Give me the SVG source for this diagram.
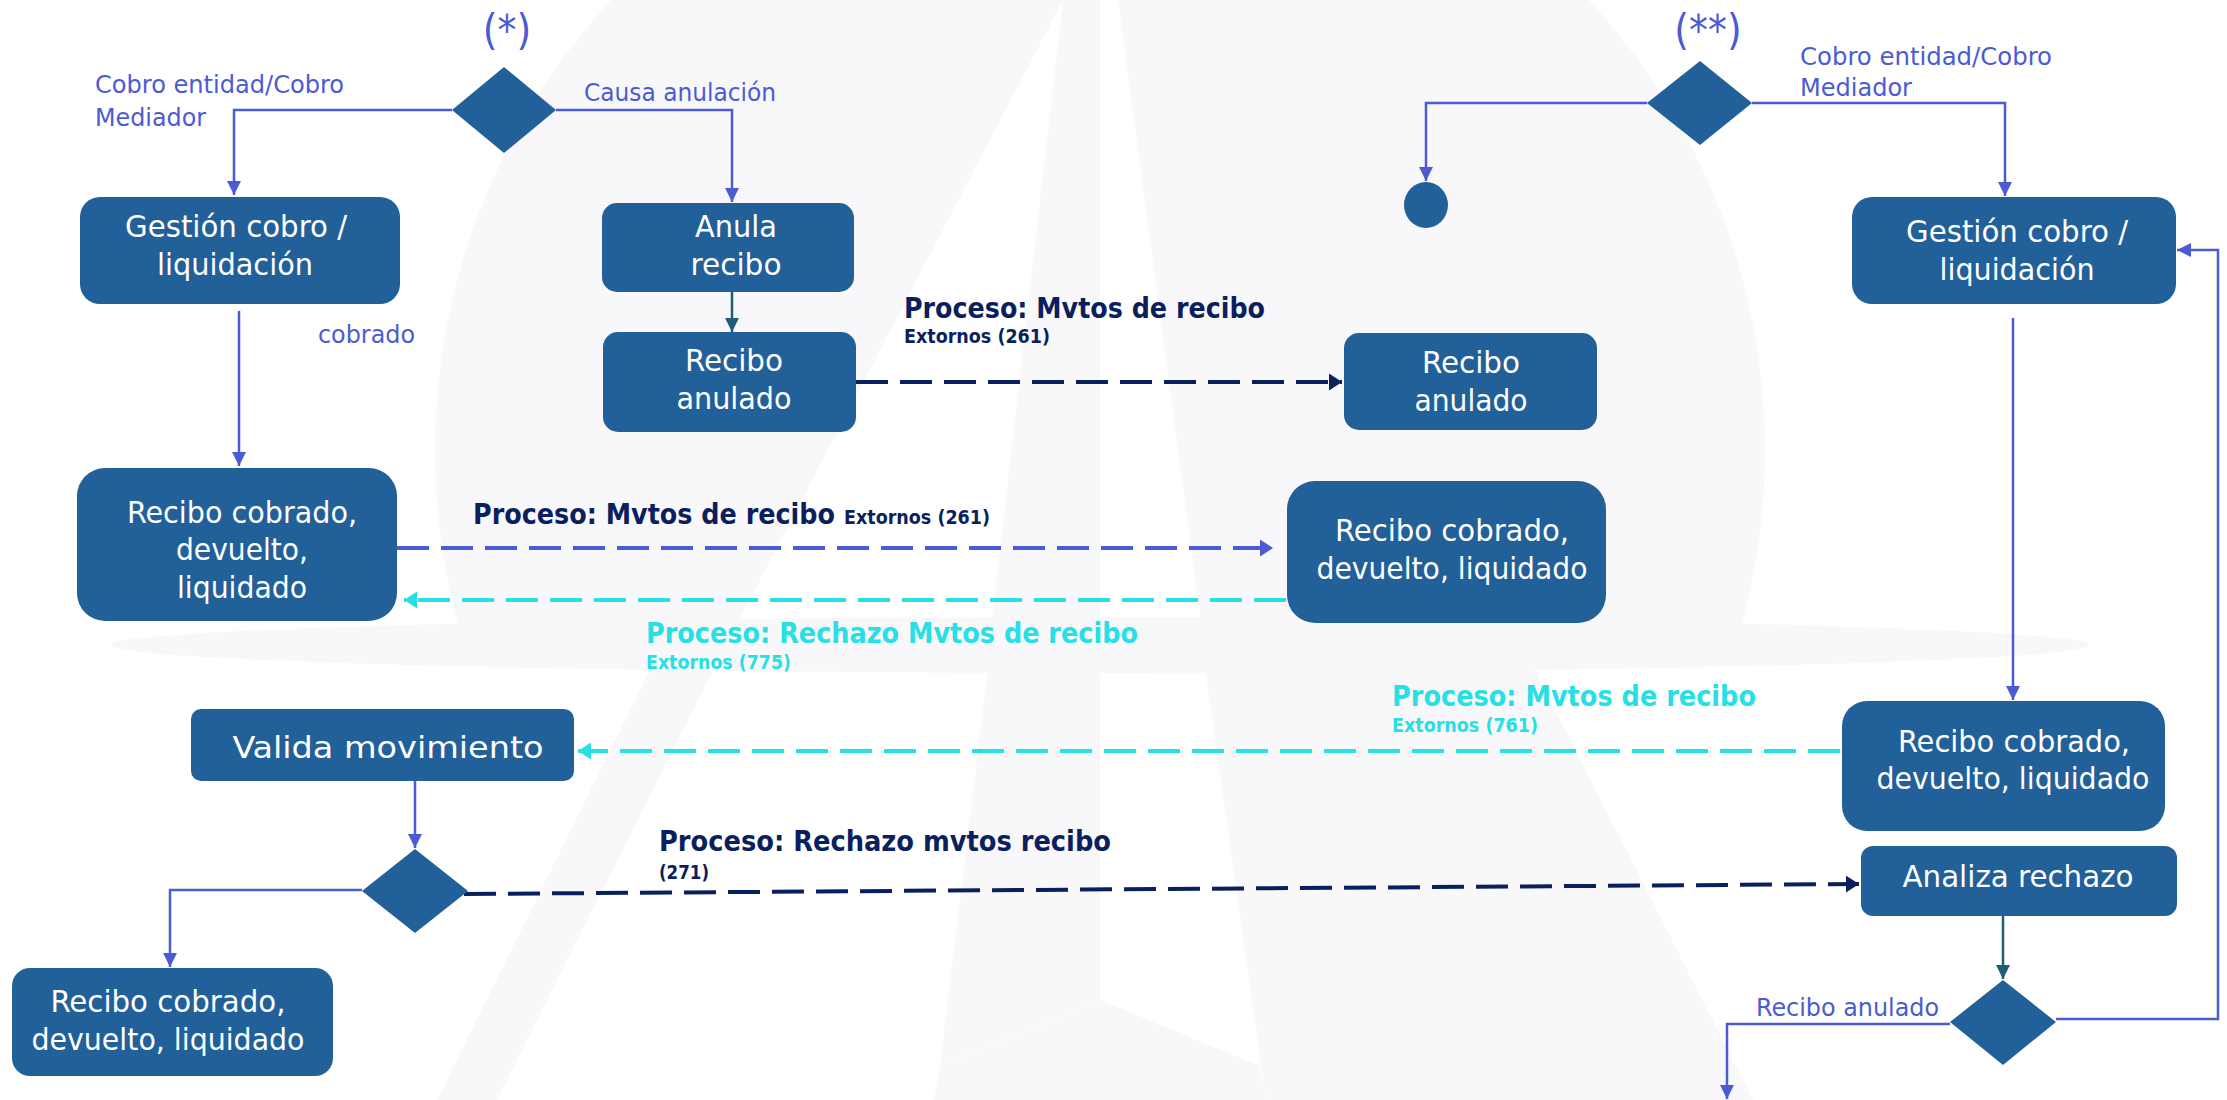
<svg xmlns="http://www.w3.org/2000/svg" width="2227" height="1100" viewBox="0 0 2227 1100">
<style>
.bg{fill:#f8f8fb}
.wh{fill:#ffffff}
.box{fill:#22609a}
.dia{fill:#22609a}
.bt{font-family:"DejaVu Sans Condensed","DejaVu Sans",sans-serif;font-size:30px;fill:#ffffff;text-anchor:middle}
.lbl{font-family:"DejaVu Sans Condensed","DejaVu Sans",sans-serif;font-size:25px;fill:#4a5bd4}
.star{font-family:"DejaVu Sans Condensed","DejaVu Sans",sans-serif;font-size:42px;fill:#4a5bd4;text-anchor:middle}
.pb{font-family:"DejaVu Sans Condensed","DejaVu Sans",sans-serif;font-weight:bold;font-size:29px}
.ps{font-family:"DejaVu Sans Condensed","DejaVu Sans",sans-serif;font-weight:bold;font-size:19px}
.navy{fill:#0b1f5e}
.cyan{fill:#27dfe4}
.sl{fill:none;stroke:#4a5bd4;stroke-width:2.5}
.tl{fill:none;stroke:#1d5f78;stroke-width:2.5}
.dn{fill:none;stroke:#0b1f5e;stroke-width:4;stroke-dasharray:32 12}
.db{fill:none;stroke:#4a5bd4;stroke-width:4;stroke-dasharray:32 12}
.dc{fill:none;stroke:#27dfe4;stroke-width:4;stroke-dasharray:32 12}
</style>
<defs>
<marker id="aBlue" viewBox="0 0 14 14" refX="14" refY="7" markerWidth="14" markerHeight="14" markerUnits="userSpaceOnUse" orient="auto"><path d="M0,0 L14,7 L0,14 z" fill="#4a5bd4"/></marker>
<marker id="aTeal" viewBox="0 0 14 14" refX="14" refY="7" markerWidth="14" markerHeight="14" markerUnits="userSpaceOnUse" orient="auto"><path d="M0,0 L14,7 L0,14 z" fill="#1d5f78"/></marker>
<marker id="aNavy" viewBox="0 0 13 17" refX="13" refY="8.5" markerWidth="13" markerHeight="17" markerUnits="userSpaceOnUse" orient="auto"><path d="M0,0 L13,8.5 L0,17 z" fill="#0b1f5e"/></marker>
<marker id="aBlueD" viewBox="0 0 13 17" refX="13" refY="8.5" markerWidth="13" markerHeight="17" markerUnits="userSpaceOnUse" orient="auto"><path d="M0,0 L13,8.5 L0,17 z" fill="#4a5bd4"/></marker>
<marker id="aCyan" viewBox="0 0 13 17" refX="13" refY="8.5" markerWidth="13" markerHeight="17" markerUnits="userSpaceOnUse" orient="auto"><path d="M0,0 L13,8.5 L0,17 z" fill="#27dfe4"/></marker>
</defs>
<rect width="2227" height="1100" fill="#ffffff"/>
<g id="watermark">
<path class="bg" d="M464,645 A665,665 0 1 1 1736,645 Z"/>
<polygon class="wh" points="1063,0 726,645 989,645"/>
<polygon class="wh" points="1100,0 1118,0 1204,645 1100,645"/>
<ellipse class="bg" cx="1100" cy="645" rx="990" ry="28"/>
<polygon class="bg" points="655,660 718,660 497,1100 437,1100"/>
<polygon class="bg" points="989,660 1100,660 1100,1000 940,1066"/>
<polygon class="bg" points="940,1066 1100,1000 1260,1066 1266,1100 934,1100"/>
<polygon class="bg" points="1204,660 1530,660 1753,1100 1266,1100"/>
</g>
<g id="connectors">
<polyline class="sl" points="452,110 234,110 234,195" marker-end="url(#aBlue)"/>
<polyline class="sl" points="556,110 732,110 732,202" marker-end="url(#aBlue)"/>
<line class="tl" x1="732" y1="292" x2="732" y2="332" marker-end="url(#aTeal)"/>
<line class="sl" x1="239" y1="311" x2="239" y2="466" marker-end="url(#aBlue)"/>
<line class="dn" x1="856" y1="382" x2="1342" y2="382" marker-end="url(#aNavy)"/>
<line class="db" x1="397" y1="548" x2="1273" y2="548" marker-end="url(#aBlueD)"/>
<line class="dc" x1="1286" y1="600" x2="404" y2="600" marker-end="url(#aCyan)"/>
<polyline class="sl" points="1647,103 1426,103 1426,181" marker-end="url(#aBlue)"/>
<polyline class="sl" points="1752,103 2005,103 2005,196" marker-end="url(#aBlue)"/>
<line class="sl" x1="2013" y1="318" x2="2013" y2="700" marker-end="url(#aBlue)"/>
<line class="dc" x1="1840" y1="751" x2="578" y2="751" marker-end="url(#aCyan)"/>
<line class="sl" x1="415" y1="781" x2="415" y2="848" marker-end="url(#aBlue)"/>
<polyline class="sl" points="362,890 170,890 170,967" marker-end="url(#aBlue)"/>
<line class="dn" x1="464" y1="894" x2="1859" y2="884" marker-end="url(#aNavy)"/>
<line class="tl" x1="2003" y1="916" x2="2003" y2="979" marker-end="url(#aTeal)"/>
<polyline class="sl" points="2056,1019 2218,1019 2218,250 2177,250" marker-end="url(#aBlue)"/>
<polyline class="sl" points="1950,1024 1727,1024 1727,1099" marker-end="url(#aBlue)"/>
</g>
<g id="labels">
<text class="star" x="507" y="45">(*)</text>
<text class="star" x="1708" y="45">(**)</text>
<text class="lbl" x="95" y="93" textLength="249" lengthAdjust="spacingAndGlyphs">Cobro entidad/Cobro</text>
<text class="lbl" x="95" y="126" textLength="111" lengthAdjust="spacingAndGlyphs">Mediador</text>
<text class="lbl" x="584" y="101" textLength="192" lengthAdjust="spacingAndGlyphs">Causa anulación</text>
<text class="lbl" x="318" y="343" textLength="97" lengthAdjust="spacingAndGlyphs">cobrado</text>
<text class="lbl" x="1800" y="65" textLength="252" lengthAdjust="spacingAndGlyphs">Cobro entidad/Cobro</text>
<text class="lbl" x="1800" y="96" textLength="112" lengthAdjust="spacingAndGlyphs">Mediador</text>
<text class="lbl" x="1756" y="1016" textLength="183" lengthAdjust="spacingAndGlyphs">Recibo anulado</text>
<text class="pb navy" x="904" y="318" textLength="361" lengthAdjust="spacingAndGlyphs">Proceso: Mvtos de recibo</text>
<text class="ps navy" x="904" y="343" textLength="146" lengthAdjust="spacingAndGlyphs">Extornos  (261)</text>
<text class="pb navy" x="473" y="524" textLength="362" lengthAdjust="spacingAndGlyphs">Proceso: Mvtos de recibo</text>
<text class="ps navy" x="844" y="524" textLength="146" lengthAdjust="spacingAndGlyphs">Extornos  (261)</text>
<text class="pb cyan" x="646" y="643" textLength="492" lengthAdjust="spacingAndGlyphs">Proceso: Rechazo Mvtos de recibo</text>
<text class="ps cyan" x="646" y="669" textLength="145" lengthAdjust="spacingAndGlyphs">Extornos  (775)</text>
<text class="pb cyan" x="1392" y="706" textLength="364" lengthAdjust="spacingAndGlyphs">Proceso: Mvtos de recibo</text>
<text class="ps cyan" x="1392" y="732" textLength="146" lengthAdjust="spacingAndGlyphs">Extornos  (761)</text>
<text class="pb navy" x="659" y="851" textLength="452" lengthAdjust="spacingAndGlyphs">Proceso: Rechazo mvtos recibo</text>
<text class="ps navy" x="659" y="879" textLength="50" lengthAdjust="spacingAndGlyphs">(271)</text>
</g>
<g id="decision1"><polygon class="dia" points="504,67 556,110 504,153 452,110"/></g>
<g id="decision2"><polygon class="dia" points="1700,61 1752,103 1700,145 1647,103"/></g>
<g id="decision3"><polygon class="dia" points="2003,980 2056,1022 2003,1065 1950,1022"/></g>
<g id="decision4"><polygon class="dia" points="415,849 468,891 415,933 362,891"/></g>
<g id="final"><ellipse class="dia" cx="1426" cy="205" rx="22" ry="23"/></g>
<g id="gestion-left"><rect class="box" x="80" y="197" width="320" height="107" rx="20"/>
<text class="bt" x="236" y="237" textLength="222" lengthAdjust="spacingAndGlyphs">Gestión cobro /</text>
<text class="bt" x="235" y="275" textLength="156" lengthAdjust="spacingAndGlyphs">liquidación</text></g>
<g id="anula-recibo"><rect class="box" x="602" y="203" width="252" height="89" rx="15"/>
<text class="bt" x="736" y="237" textLength="82" lengthAdjust="spacingAndGlyphs">Anula</text>
<text class="bt" x="736" y="275" textLength="91" lengthAdjust="spacingAndGlyphs">recibo</text></g>
<g id="recibo-anulado-left"><rect class="box" x="603" y="332" width="253" height="100" rx="15"/>
<text class="bt" x="734" y="371" textLength="98" lengthAdjust="spacingAndGlyphs">Recibo</text>
<text class="bt" x="734" y="409" textLength="115" lengthAdjust="spacingAndGlyphs">anulado</text></g>
<g id="recibo-anulado-right"><rect class="box" x="1344" y="333" width="253" height="97" rx="15"/>
<text class="bt" x="1471" y="373" textLength="98" lengthAdjust="spacingAndGlyphs">Recibo</text>
<text class="bt" x="1471" y="411" textLength="113" lengthAdjust="spacingAndGlyphs">anulado</text></g>
<g id="recibo-cobrado-left"><rect class="box" x="77" y="468" width="320" height="153" rx="28"/>
<text class="bt" x="242" y="523" textLength="230" lengthAdjust="spacingAndGlyphs">Recibo cobrado,</text>
<text class="bt" x="242" y="560" textLength="132" lengthAdjust="spacingAndGlyphs">devuelto,</text>
<text class="bt" x="242" y="598" textLength="130" lengthAdjust="spacingAndGlyphs">liquidado</text></g>
<g id="recibo-cobrado-mid"><rect class="box" x="1287" y="481" width="319" height="142" rx="28"/>
<text class="bt" x="1452" y="541" textLength="234" lengthAdjust="spacingAndGlyphs">Recibo cobrado,</text>
<text class="bt" x="1452" y="579" textLength="271" lengthAdjust="spacingAndGlyphs">devuelto, liquidado</text></g>
<g id="gestion-right"><rect class="box" x="1852" y="197" width="324" height="107" rx="20"/>
<text class="bt" x="2017" y="242" textLength="222" lengthAdjust="spacingAndGlyphs">Gestión cobro /</text>
<text class="bt" x="2017" y="280" textLength="155" lengthAdjust="spacingAndGlyphs">liquidación</text></g>
<g id="recibo-cobrado-right"><rect class="box" x="1842" y="701" width="323" height="130" rx="25"/>
<text class="bt" x="2014" y="752" textLength="232" lengthAdjust="spacingAndGlyphs">Recibo cobrado,</text>
<text class="bt" x="2013" y="789" textLength="273" lengthAdjust="spacingAndGlyphs">devuelto, liquidado</text></g>
<g id="analiza-rechazo"><rect class="box" x="1861" y="846" width="316" height="70" rx="12"/>
<text class="bt" x="2018" y="887" textLength="231" lengthAdjust="spacingAndGlyphs">Analiza rechazo</text></g>
<g id="valida-movimiento"><rect class="box" x="191" y="709" width="383" height="72" rx="10"/>
<text class="bt" x="388" y="758" font-size="36" textLength="311" lengthAdjust="spacingAndGlyphs">Valida movimiento</text></g>
<g id="recibo-cobrado-bottom"><rect class="box" x="12" y="968" width="321" height="108" rx="18"/>
<text class="bt" x="168" y="1012" textLength="235" lengthAdjust="spacingAndGlyphs">Recibo cobrado,</text>
<text class="bt" x="168" y="1050" textLength="273" lengthAdjust="spacingAndGlyphs">devuelto, liquidado</text></g>
</svg>
